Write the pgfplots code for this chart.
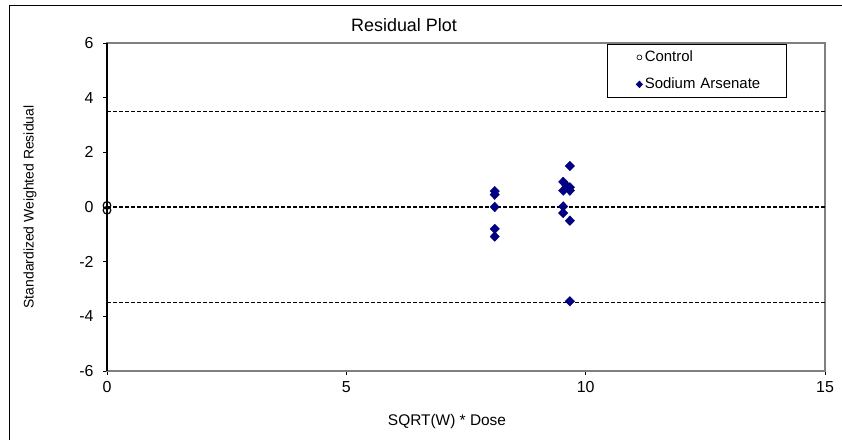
\documentclass[border=0pt]{standalone}
\usepackage{pgfplots}
\pgfplotsset{compat=1.18}
\usepackage{fontspec}
\setmainfont{Liberation Sans}
\definecolor{navyd}{RGB}{0,0,128}
\definecolor{frameg}{RGB}{128,128,128}
\begin{document}
\begin{tikzpicture}[x=1bp,y=1bp]
\useasboundingbox (0,0) rectangle (842,440);
\draw[black,line width=1bp] (9,0) -- (9,434) -- (842,434);
\node[font=\fontsize{18}{20}\selectfont,anchor=base] at (404,408) {Residual Plot};
\begin{axis}[
  at={(107bp,69bp)}, anchor=south west,
  scale only axis, width=718bp, height=328bp,
  xmin=0, xmax=15, ymin=-6, ymax=6,
  xtick={0,5,10,15}, ytick={-6,-4,-2,0,2,4,6},
  xtick pos=bottom, ytick pos=left, tick align=outside,
  major tick length=4bp,
  tick style={black, line width=0.8bp},
  axis line style={frameg, line width=1.5bp},
  tick label style={font=\fontsize{16}{18}\selectfont},
  yticklabel style={xshift=-6bp},
  xticklabel style={yshift=-3bp},
  /pgf/number format/assume math mode=true,
  xlabel={SQRT(W) * Dose}, ylabel={Standardized Weighted Residual},
  xlabel style={font=\fontsize{15.5}{17}\selectfont, xshift=-19bp, yshift=-15bp},
  ylabel style={font=\fontsize{14}{16}\selectfont, yshift=36bp},
  clip=false,
  legend style={at={(rel axis cs:0.6964,0.9970)}, anchor=north west,
    draw=black, line width=0.8bp, fill=white,
    font=\fontsize{15}{17}\selectfont,
    inner xsep=4bp, inner ysep=1bp, row sep=3bp,
    nodes={text width=136bp, text height=11bp, text depth=3bp, inner ysep=5bp},
    cells={anchor=west}},
  legend cell align=left,
]
\addplot[black, line width=1.3bp, dash pattern=on 4bp off 2bp, forget plot] coordinates {(0,3.5) (15,3.5)};
\addplot[black, line width=1.3bp, dash pattern=on 4bp off 2bp, forget plot] coordinates {(0,0) (15,0)};
\addplot[black, line width=1.3bp, dash pattern=on 4bp off 2bp, forget plot] coordinates {(0,-3.5) (15,-3.5)};
\addplot[only marks, mark=o, mark size=3.8bp, mark options={black, line width=1.2bp},
  legend image code/.code={\path[draw=none,fill=none] (0,-1bp) rectangle (31bp,1bp); \draw[black, line width=0.6bp, fill=none] (28bp,0) circle (2.5bp);}]
  coordinates {(0,0.06) (0,-0.12)};
\addlegendentry{Control}
\addplot[only marks, mark=diamond*, mark size=4.8bp, mark options={navyd, draw=navyd, fill=navyd, xscale=1.3},
  legend image code/.code={\path[draw=none,fill=none] (0,-1bp) rectangle (31bp,1bp); \fill[navyd] (28bp,3.2bp) -- (28bp+3bp,0) -- (28bp,-3.2bp) -- (28bp-3bp,0) -- cycle;}]
  coordinates {
  (8.1,0.58) (8.1,0.45) (8.1,0.0) (8.1,-0.8) (8.1,-1.08)
  (9.67,1.5) (9.53,0.92) (9.6,0.78) (9.53,0.6) (9.67,0.72) (9.67,0.6)
  (9.53,0.02) (9.53,-0.22) (9.67,-0.5) (9.67,-3.45)};
\addlegendentry{Sodium Arsenate}
\end{axis}
\draw[black, line width=1.3bp] (107,69) -- (107,397);
\end{tikzpicture}
\end{document}
